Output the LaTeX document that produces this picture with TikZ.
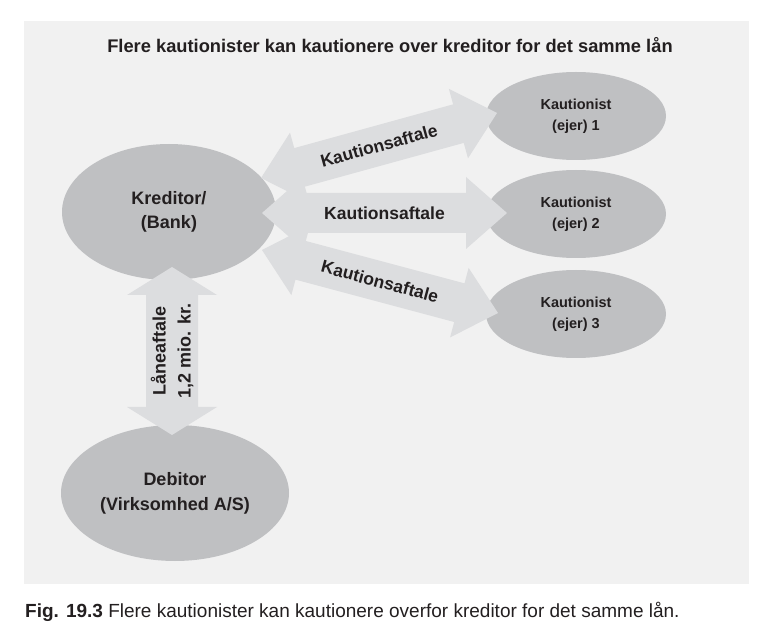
\documentclass[tikz,border=0pt]{standalone}
\usepackage{fontspec}
\setmainfont{Liberation Sans}
\usetikzlibrary{calc,shapes.geometric}
\definecolor{panelbg}{HTML}{F1F1F1}
\definecolor{ellgray}{HTML}{BFC0C2}
\definecolor{arrgray}{HTML}{DCDDDF}
\definecolor{ink}{HTML}{231F20}
\tikzset{
  bigell/.style={ellipse, fill=ellgray, inner sep=0pt, text=ink, font=\fontsize{18}{24}\selectfont\bfseries, align=center},
  smallell/.style={ellipse, fill=ellgray, inner sep=0pt, text=ink, font=\fontsize{14.5}{21}\selectfont\bfseries, align=center, minimum width=180pt, minimum height=88pt},
  arrlabel/.style={text=ink, font=\fontsize{17.5}{21}\selectfont\bfseries, inner sep=0pt},
  vlabel/.style={text=ink, font=\fontsize{18}{25}\selectfont\bfseries, inner sep=0pt, align=center},
}
\newcommand{\blockarrow}[5]{% from, to, head length, head half width, shaft half width
  \fill[arrgray] (#1)
    -- ($(#1)!#3!(#2)!#4!90:(#2)$)
    -- ($(#1)!#3!(#2)!#5!90:(#2)$)
    -- ($(#2)!#3!(#1)!#5!-90:(#1)$)
    -- ($(#2)!#3!(#1)!#4!-90:(#1)$)
    -- (#2)
    -- ($(#2)!#3!(#1)!#4!90:(#1)$)
    -- ($(#2)!#3!(#1)!#5!90:(#1)$)
    -- ($(#1)!#3!(#2)!#5!-90:(#2)$)
    -- ($(#1)!#3!(#2)!#4!-90:(#2)$)
    -- cycle;}
\begin{document}
\begin{tikzpicture}[x=1pt,y=-1pt]
\useasboundingbox (0,0) rectangle (777,636);
\fill[panelbg] (24,21) rectangle (749,584);
\node[text=ink, font=\fontsize{18.3}{22}\selectfont\bfseries, anchor=base] (title) at (390,53) {Flere kautionister kan kautionere over kreditor for det samme lån};
% ellipses
\node[bigell, minimum width=214pt, minimum height=136pt] (kred) at (169,212) {Kreditor/\\(Bank)};
\node[bigell, minimum width=228pt, minimum height=136pt, font=\fontsize{18}{25}\selectfont\bfseries] (deb) at (175,493) {Debitor\\(Virksomhed A/S)};
\node[smallell] (k1) at (576,116) {Kautionist\\(ejer) 1};
\node[smallell] (k2) at (576,214) {Kautionist\\(ejer) 2};
\node[smallell] (k3) at (576,314) {Kautionist\\(ejer) 3};
% arrow end points
\coordinate (a1L) at (261,178);
\coordinate (a1R) at (497,113);
\coordinate (a2L) at (262,213);
\coordinate (a2R) at (507,213);
\coordinate (a3L) at (262,250);
\coordinate (a3R) at (498,313);
\coordinate (vT) at (172,267);
\coordinate (vB) at (172,435);
% block arrows
\blockarrow{a1L}{a1R}{40pt}{36pt}{20pt}
\blockarrow{a2L}{a2R}{41pt}{36pt}{20pt}
\blockarrow{a3L}{a3R}{40pt}{36pt}{20pt}
\blockarrow{vT}{vB}{28pt}{45pt}{26pt}
% labels on arrows
\path (a1L) -- (a1R) node[midway, sloped, arrlabel] (l1) {Kautionsaftale};
\path (a2L) -- (a2R) node[midway, sloped, arrlabel] (l2) {Kautionsaftale};
\path (a3L) -- (a3R) node[midway, sloped, arrlabel] (l3) {Kautionsaftale};
\path (vB) -- (vT) node[midway, sloped, vlabel] (lv) {Låneaftale\\1,2 mio. kr.};
% caption
\node[text=ink, font=\fontsize{19}{23}\selectfont, anchor=base west, inner sep=0pt] (cap) at (25,617) {\textbf{Fig. 19.3} Flere kautionister kan kautionere overfor kreditor for det samme lån.};
\end{tikzpicture}
\end{document}
